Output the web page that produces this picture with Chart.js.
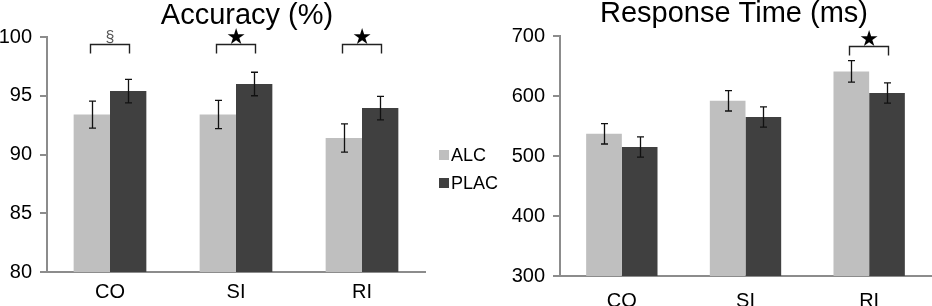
<!DOCTYPE html>
<html>
<head>
<meta charset="UTF-8">
<title>Accuracy / Response Time</title>
<script src="https://cdn.jsdelivr.net/npm/chart.js"></script>
<style>
  body { margin: 0; background: #fff; }
  #wrap { position: relative; width: 932px; height: 306px; overflow: hidden; }
  canvas { position: absolute; top: 0; }
  #acc { left: 0; }
  #rt { left: 480px; }
</style>
</head>
<body>
<div id="wrap">
  <canvas id="acc" width="520" height="306"></canvas>
  <canvas id="rt" width="452" height="306"></canvas>
</div>
<script>
const categories = ['CO', 'SI', 'RI'];
const seriesNames = ['ALC', 'PLAC'];

// Accuracy (%)
const accALC = [93.4, 93.4, 91.4];
const accALCErr = [1.15, 1.2, 1.2];
const accPLAC = [95.4, 96.0, 93.95];
const accPLACErr = [1.0, 1.0, 1.0];
const accTicks = [80, 85, 90, 95, 100];
const accSig = ['§', '★', '★'];
const accSigLevel = 99.43;

// Response time (ms)
const rtALC = [537, 592, 641];
const rtALCErr = [17, 17, 18];
const rtPLAC = [515, 565, 605];
const rtPLACErr = [17, 17, 17];
const rtTicks = [300, 400, 500, 600, 700];
const rtSig = [null, null, '★'];
const rtSigLevel = 684;

const colors = ['#bfbfbf', '#404040'];
const FONT = '"Liberation Sans", Arial, sans-serif';
const axisGray = '#8c8c8c';

const extras = {
  id: 'extras',
  afterDatasetsDraw(chart, args, opts) {
    const ctx = chart.ctx;
    const y = chart.scales.y;
    ctx.save();
    // error bars
    ctx.strokeStyle = '#111';
    ctx.lineWidth = 1.3;
    chart.data.datasets.forEach((ds, di) => {
      chart.getDatasetMeta(di).data.forEach((bar, i) => {
        const v = ds.data[i], e = ds.errors[i];
        const yt = y.getPixelForValue(v + e), yb = y.getPixelForValue(v - e);
        const x = Math.round(bar.x) + 0.5;
        ctx.beginPath();
        ctx.moveTo(x, yt); ctx.lineTo(x, yb);
        ctx.moveTo(x - 3.5, yt); ctx.lineTo(x + 3.5, yt);
        ctx.moveTo(x - 3.5, yb); ctx.lineTo(x + 3.5, yb);
        ctx.stroke();
      });
    });
    // significance brackets
    const m0 = chart.getDatasetMeta(0), m1 = chart.getDatasetMeta(1);
    const yb = Math.round(y.getPixelForValue(opts.sigLevel)) + 0.5;
    opts.sig.forEach((s, i) => {
      if (!s) return;
      const x0 = Math.round(m0.data[i].x) - 1.5, x1 = Math.round(m1.data[i].x) + 1.5;
      ctx.strokeStyle = '#222';
      ctx.lineWidth = 1.4;
      ctx.beginPath();
      ctx.moveTo(x0, yb + 9); ctx.lineTo(x0, yb); ctx.lineTo(x1, yb); ctx.lineTo(x1, yb + 9);
      ctx.stroke();
      ctx.textAlign = 'center';
      ctx.textBaseline = 'middle';
      const xm = (x0 + x1) / 2;
      if (s === '★') {
        ctx.fillStyle = '#000';
        ctx.font = '22px "DejaVu Sans"';
        ctx.fillText(s, xm, yb - 6);
      } else {
        ctx.fillStyle = '#555';
        ctx.font = '16px ' + FONT;
        ctx.fillText(s, xm, yb - 7);
      }
    });
    ctx.restore();
  },
  afterDraw(chart, args, opts) {
    const ctx = chart.ctx;
    ctx.save();
    ctx.fillStyle = '#000';
    ctx.font = '29px ' + FONT;
    ctx.textAlign = 'center';
    ctx.textBaseline = 'alphabetic';
    ctx.fillText(opts.title, opts.titleX, opts.titleY);
    if (opts.legend) {
      ctx.font = '18px ' + FONT;
      ctx.textAlign = 'left';
      ctx.textBaseline = 'middle';
      chart.data.datasets.forEach((ds, i) => {
        const cy = opts.legend.y + i * 28;
        ctx.fillStyle = ds.backgroundColor;
        ctx.fillRect(opts.legend.x, cy - 5, 10, 10);
        ctx.fillStyle = '#000';
        ctx.fillText(ds.label, opts.legend.x + 12, cy + 1);
      });
    }
    ctx.restore();
  }
};

function makeChart(id, a, aErr, b, bErr, ticks, cfg) {
  return new Chart(document.getElementById(id), {
    type: 'bar',
    data: {
      labels: categories,
      datasets: [
        { label: seriesNames[0], data: a, errors: aErr, backgroundColor: colors[0] },
        { label: seriesNames[1], data: b, errors: bErr, backgroundColor: colors[1] }
      ]
    },
    plugins: [extras],
    options: {
      responsive: false,
      animation: false,
      events: [],
      categoryPercentage: 0.577,
      barPercentage: 1.0,
      layout: { padding: { top: cfg.top, right: cfg.right, left: 0, bottom: 0 } },
      plugins: {
        legend: { display: false },
        tooltip: { enabled: false },
        extras: cfg.extras
      },
      scales: {
        x: {
          grid: { display: false },
          border: { display: true, color: axisGray, width: 2 },
          ticks: { color: '#000', font: { family: FONT, size: 20 }, padding: cfg.xPad },
          afterFit(s) { s.height = cfg.xHeight; }
        },
        y: {
          min: ticks[0],
          max: ticks[ticks.length - 1],
          afterBuildTicks(s) { s.ticks = ticks.map(v => ({ value: v })); },
          grid: { display: true, drawOnChartArea: false, drawTicks: true, tickLength: 7, color: axisGray, lineWidth: 2 },
          border: { display: true, color: axisGray, width: 2 },
          ticks: { color: '#000', font: { family: FONT, size: 20 }, padding: 8 },
          afterFit(s) { s.width = cfg.yWidth; }
        }
      }
    }
  });
}

makeChart('acc', accALC, accALCErr, accPLAC, accPLACErr, accTicks, {
  top: 37, right: 95, xHeight: 34, yWidth: 47, xPad: 0,
  extras: { title: 'Accuracy (%)', titleX: 247, titleY: 24, sig: accSig, sigLevel: accSigLevel,
            legend: { x: 439, y: 155 } }
});

makeChart('rt', rtALC, rtALCErr, rtPLAC, rtPLACErr, rtTicks, {
  top: 36, right: 1, xHeight: 30, yWidth: 80, xPad: 5,
  extras: { title: 'Response Time (ms)', titleX: 254, titleY: 22, sig: rtSig, sigLevel: rtSigLevel }
});
</script>
</body>
</html>
